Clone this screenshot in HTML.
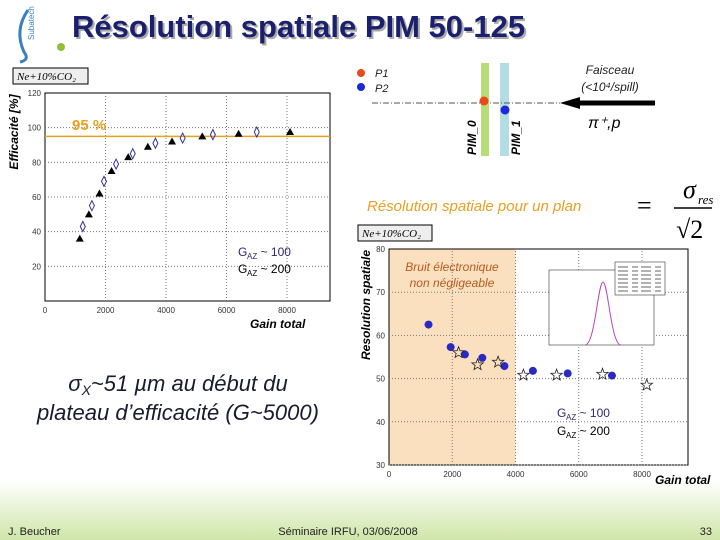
<!DOCTYPE html>
<html><head><meta charset="utf-8"><style>
body{margin:0;background:#fff}
svg{display:block;font-family:"Liberation Sans",sans-serif}
</style></head><body>
<svg width="720" height="540" viewBox="0 0 720 540" xmlns="http://www.w3.org/2000/svg">
<defs>
<linearGradient id="foot" x1="0" y1="0" x2="0" y2="1"><stop offset="0" stop-color="#fff"/><stop offset="1" stop-color="#cfe6a8"/></linearGradient>
<linearGradient id="tl" x1="0" y1="0" x2="1" y2="0"><stop offset="0" stop-color="#8fbf3a"/><stop offset="1" stop-color="#8fbf3a" stop-opacity="0"/></linearGradient>
</defs>
<rect x="0" y="480" width="720" height="60" fill="url(#foot)"/>
<g><path d="M28 10 Q14 30 24 52 Q30 60 20 62" stroke="#3a7fc0" stroke-width="3" fill="none"/><text x="34" y="40" font-size="8" fill="#3a7fc0" transform="rotate(-90 34 40)">Subatech</text></g>
<line x1="28" y1="47" x2="520" y2="47" stroke="url(#tl)" stroke-width="2"/>
<circle cx="61" cy="47" r="4" fill="#8fbf3a"/>
<text x="74" y="39" font-size="31" font-weight="bold" fill="#aaa">Résolution spatiale PIM 50-125</text>
<text x="72" y="37" font-size="31" font-weight="bold" fill="#1a1f6e">Résolution spatiale PIM 50-125</text>

<g id="left"></g>
<g id="right"></g>

<g>
<circle cx="361" cy="73" r="4" fill="#e84a1a"/>
<text x="375" y="77" font-size="11" font-style="italic" fill="#222">P1</text>
<circle cx="361" cy="87" r="4" fill="#1a2ad8"/>
<text x="375" y="92" font-size="11" font-style="italic" fill="#222">P2</text>
<rect x="481" y="63" width="8" height="93" fill="#b8dc78"/>
<rect x="500" y="63" width="9" height="93" fill="#b4dce4"/>
<line x1="372" y1="103" x2="560" y2="103" stroke="#555" stroke-dasharray="6,2,1,2"/>
<line x1="575" y1="103" x2="655" y2="103" stroke="#000" stroke-width="5"/>
<polygon points="560,103 580,97 580,109" fill="#000"/>
<circle cx="484" cy="101" r="4.5" fill="#e84a1a"/>
<circle cx="505" cy="110" r="4.5" fill="#1a2ad8"/>
<text x="476" y="155" font-size="12" font-weight="bold" font-style="italic" transform="rotate(-90 476 155)">PIM_0</text>
<text x="520" y="155" font-size="12" font-weight="bold" font-style="italic" transform="rotate(-90 520 155)">PIM_1</text>
<text x="610" y="74" font-size="12" font-style="italic" text-anchor="middle" fill="#222">Faisceau</text>
<text x="610" y="91" font-size="12" font-style="italic" text-anchor="middle" fill="#222">(&lt;10⁴/spill)</text>
<text x="588" y="128" font-size="16" font-style="italic" fill="#000">π⁺,p</text>
</g>
<text x="367" y="211" font-size="15" font-style="italic" fill="#e8a020">Résolution spatiale pour un plan</text>
<g font-family="Liberation Serif,serif">
<text x="637" y="214" font-size="26">=</text>
<text x="683" y="198" font-size="26" font-style="italic">σ</text>
<text x="698" y="204" font-size="13" font-style="italic">res</text>
<line x1="674" y1="208" x2="712" y2="208" stroke="#000" stroke-width="1.5"/>
<text x="676" y="238" font-size="26">√2</text>
</g>
<text x="178" y="391" font-size="22" font-style="italic" text-anchor="middle" fill="#1a1a30">σ<tspan font-size="14" dy="4">X</tspan><tspan dy="-4">~51 µm au début du</tspan></text>
<text x="178" y="420" font-size="22" font-style="italic" text-anchor="middle" fill="#1a1a30">plateau d’efficacité (G~5000)</text>
<text x="8" y="535" font-size="11" fill="#222">J. Beucher</text>
<text x="348" y="535" font-size="11" text-anchor="middle" fill="#222">Séminaire IRFU, 03/06/2008</text>
<text x="712" y="535" font-size="11" text-anchor="end" fill="#222">33</text>
</svg>
<script>
const NS="http://www.w3.org/2000/svg";
// Left chart data
const effGainA=[1150,1450,1800,2200,2750,3400,4200,5200,6400,8100];
const effValA=[36,50,62,75,83,89,92,95,96.5,97.5];
const effGainB=[1250,1550,1950,2350,2900,3650,4550,5550,7000];
const effValB=[43,55,69,79,85,91,94,96,97.5];
const effXTicks=[0,2000,4000,6000,8000];
const effYTicks=[20,40,60,80,100,120];
// Right chart data
const resGainCircle=[1250,1950,2400,2950,3650,4550,5650,7050];
const resValCircle=[62.5,57.3,55.6,54.8,52.9,51.8,51.2,50.7];
const resGainStar=[2200,2800,3450,4250,5300,6750,8150];
const resValStar=[56,53.2,53.8,50.8,50.8,51,48.5];
const resXTicks=[0,2000,4000,6000,8000];
const resYTicks=[30,40,50,60,70,80];

function mk(p,t,a,txt){const e=document.createElementNS(NS,t);for(const k in a)e.setAttribute(k,a[k]);if(txt!=null)e.textContent=txt;p.appendChild(e);return e;}

function frame(g,x0,x1,y0,y1,xs,ys,xt,yt){
  mk(g,'rect',{x:x0,y:y1,width:x1-x0,height:y0-y1,fill:'none',stroke:'#000','stroke-width':1});
  xt.forEach(v=>{const x=xs(v);
    if(v>0){const l=mk(g,'line',{x1:x,x2:x,y1:y0,y2:y1,stroke:'#777','stroke-dasharray':'1,2'});}
    const t=mk(g,'text',{x:x,y:y0+12,'font-size':8,'text-anchor':'middle',fill:'#333'},v);
    });
  yt.forEach(v=>{const y=ys(v);
    if(y>y1+1){const l=mk(g,'line',{x1:x0,x2:x1,y1:y,y2:y,stroke:'#777','stroke-dasharray':'1,2'});}
    const t=mk(g,'text',{x:x0-4,y:y+3,'font-size':8,'text-anchor':'end',fill:'#333'},v);
    });
}

// LEFT
(function(){
const g=document.getElementById('left');
const xs=v=>45+v*242/8000, ys=v=>301-v*208/120;
const x1=330;
mk(g,'rect',{x:13,y:68,width:75,height:16,fill:'#eee',stroke:'#000'});
mk(g,'text',{x:17,y:80,'font-size':11,'font-style':'italic','font-family':'Liberation Serif,serif'},'Ne+10%CO₂');
frame(g,45,x1,301,93,xs,ys,effXTicks,effYTicks);
const l=mk(g,'line',{x1:45,x2:x1,y1:ys(95),y2:ys(95),stroke:'#e8a020','stroke-width':1.5});

mk(g,'text',{x:72,y:130,'font-size':15,'font-weight':'bold',fill:'#e8a020'},'95 %');
effGainA.forEach((v,i)=>{const x=xs(v),y=ys(effValA[i]);
  const p=mk(g,'polygon',{points:`${x},${y-4} ${x-4},${y+3} ${x+4},${y+3}`,fill:'#000'});
  });
effGainB.forEach((v,i)=>{const x=xs(v),y=ys(effValB[i]);
  const p=mk(g,'polygon',{points:`${x},${y-5} ${x-2.5},${y} ${x},${y+5} ${x+2.5},${y}`,fill:'none',stroke:'#33339a'});
  });
const yt=mk(g,'text',{x:18,y:132,'font-size':12,'font-weight':'bold','font-style':'italic','text-anchor':'middle',transform:'rotate(-90 18 132)'},'Efficacité [%]');

mk(g,'text',{x:238,y:256,'font-size':12,fill:'#2a2a6e'},'G');
const a=mk(g,'text',{x:247,y:256,'font-size':12,fill:'#2a2a6e'});a.innerHTML='<tspan font-size="8" dy="3">AZ</tspan><tspan dy="-3"> ~ 100</tspan>';
mk(g,'text',{x:238,y:273,'font-size':12,fill:'#000'},'G');const b2=mk(g,'text',{x:247,y:273,'font-size':12});b2.innerHTML='<tspan font-size="8" dy="3">AZ</tspan><tspan dy="-3"> ~ 200</tspan>';
const xtl=mk(g,'text',{x:250,y:328,'font-size':12,'font-weight':'bold','font-style':'italic'},'Gain total');

})();

// RIGHT
(function(){
const g=document.getElementById('right');
const xs=v=>389+v*253/8000, ys=v=>465-(v-30)*216/50;
const x1=688;
mk(g,'rect',{x:358,y:225,width:74,height:16,fill:'#eee',stroke:'#000'});
mk(g,'text',{x:362,y:237,'font-size':11,'font-style':'italic','font-family':'Liberation Serif,serif'},'Ne+10%CO₂');
const band=mk(g,'rect',{x:xs(0),y:ys(80),width:xs(4000)-xs(0),height:ys(30)-ys(80),fill:'#fbe0c0'});

frame(g,389,x1,465,249,xs,ys,resXTicks,resYTicks);
mk(g,'text',{x:452,y:271,'font-size':12,'font-style':'italic','text-anchor':'middle',fill:'#b85a20'},'Bruit électronique');
mk(g,'text',{x:452,y:287,'font-size':12,'font-style':'italic','text-anchor':'middle',fill:'#b85a20'},'non négligeable');
const ins=mk(g,'g',{});
mk(ins,'rect',{x:549,y:270,width:105,height:75,fill:'#fff',stroke:'#333','stroke-width':0.6});
mk(ins,'path',{d:'M585,345 C595,345 598,282 603,282 C608,282 611,345 621,345',fill:'none',stroke:'#c040c0','stroke-width':1});
mk(ins,'rect',{x:615,y:262,width:50,height:33,fill:'#fff',stroke:'#333','stroke-width':0.6});
for(let i=0;i<7;i++)mk(ins,'line',{x1:618,x2:662,y1:267+i*4,y2:267+i*4,stroke:'#999','stroke-width':1.5,'stroke-dasharray':'10,4,6,3'});
resGainCircle.forEach((v,i)=>{const c=mk(g,'circle',{cx:xs(v),cy:ys(resValCircle[i]),r:4,fill:'#2a2ac0'});
  });
resGainStar.forEach((v,i)=>{const cx=xs(v),cy=ys(resValStar[i]);let pts=[];
  for(let k=0;k<10;k++){const r=k%2?2.5:6,a=-Math.PI/2+k*Math.PI/5;pts.push((cx+r*Math.cos(a)).toFixed(1)+','+(cy+r*Math.sin(a)).toFixed(1));}
  const s=mk(g,'polygon',{points:pts.join(' '),fill:'none',stroke:'#222','stroke-width':0.8});
  });
const yt=mk(g,'text',{x:370,y:305,'font-size':12,'font-weight':'bold','font-style':'italic','text-anchor':'middle',transform:'rotate(-90 370 305)'},'Resolution spatiale');

mk(g,'text',{x:557,y:417,'font-size':12,fill:'#2a2a6e'},'G');const a=mk(g,'text',{x:566,y:417,'font-size':12,fill:'#2a2a6e'});a.innerHTML='<tspan font-size="8" dy="3">AZ</tspan><tspan dy="-3"> ~ 100</tspan>';
mk(g,'text',{x:557,y:435,'font-size':12},'G');const b=mk(g,'text',{x:566,y:435,'font-size':12});b.innerHTML='<tspan font-size="8" dy="3">AZ</tspan><tspan dy="-3"> ~ 200</tspan>';
const xtl=mk(g,'text',{x:655,y:484,'font-size':12,'font-weight':'bold','font-style':'italic'},'Gain total');

})();
</script>
</body></html>
